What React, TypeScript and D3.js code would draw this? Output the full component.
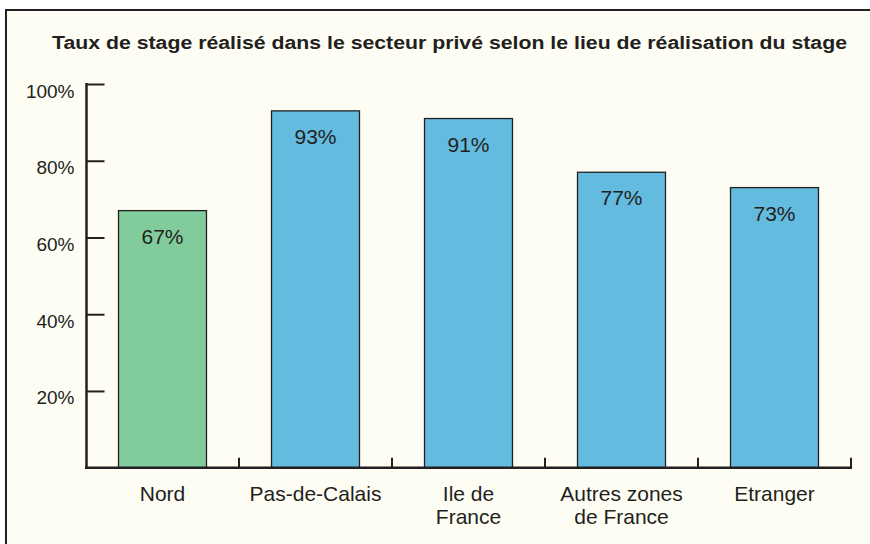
import React, { useEffect, useRef } from "react";
import * as d3 from "d3";

const categories = [
  ["Nord"],
  ["Pas-de-Calais"],
  ["Ile de", "France"],
  ["Autres zones", "de France"],
  ["Etranger"],
];
const values = [67, 93, 91, 77, 73];
const barColors = ["#82cb9c", "#63bbe0", "#63bbe0", "#63bbe0", "#63bbe0"];
const yTicks = [20, 40, 60, 80, 100];
const title =
  "Taux de stage réalisé dans le secteur privé selon le lieu de réalisation du stage";

const width = 870;
const height = 544;
const ink = "#231f20";
const font = "'Liberation Sans', Arial, sans-serif";

export default function App() {
  const ref = useRef<SVGSVGElement>(null);

  useEffect(() => {
    const svg = d3.select(ref.current);
    svg.selectAll("*").remove();

    const keys = categories.map((c, i) => String(i));
    // bands span the full axis, ticks sit on the band edges
    const band = d3.scaleBand().domain(keys).range([86, 851]).padding(0);
    const x = d3
      .scaleBand()
      .domain(keys)
      .range([86, 851])
      .paddingInner(0.425)
      .paddingOuter(0.2125);
    const y = d3.scaleLinear().domain([0, 100]).range([467.7, 84]);

    // background and frame
    svg.append("rect").attr("width", width).attr("height", height).attr("fill", "#ffffff");
    svg
      .append("rect")
      .attr("x", 6)
      .attr("y", 10)
      .attr("width", width + 20)
      .attr("height", height + 20)
      .attr("fill", "#fdfdf4")
      .attr("stroke", ink)
      .attr("stroke-width", 2);

    // title is set wider than the font's natural width
    svg
      .append("text")
      .attr("x", 52)
      .attr("y", 48.5)
      .attr("textLength", 795)
      .attr("lengthAdjust", "spacingAndGlyphs")
      .attr("font-family", font)
      .attr("font-weight", "bold")
      .attr("font-size", 17.5)
      .attr("fill", ink)
      .text(title);

    // bars
    svg
      .append("g")
      .selectAll("rect")
      .data(values)
      .join("rect")
      .attr("x", (d, i) => x(keys[i])!)
      .attr("y", (d) => y(d))
      .attr("width", x.bandwidth())
      .attr("height", (d) => y(0) - y(d))
      .attr("fill", (d, i) => barColors[i])
      .attr("stroke", ink)
      .attr("stroke-width", 1.3);

    svg
      .append("g")
      .selectAll("text")
      .data(values)
      .join("text")
      .attr("x", (d, i) => x(keys[i])! + x.bandwidth() / 2)
      .attr("y", (d) => y(d) + 33)
      .attr("text-anchor", "middle")
      .attr("font-family", font)
      .attr("font-size", 21)
      .attr("fill", ink)
      .text((d) => d + "%");

    // y axis
    const yAxis = svg.append("g").attr("transform", "translate(86.5,0)");
    yAxis
      .call(d3.axisRight(y).tickValues(yTicks).tickSize(18).tickFormat(() => ""))
      .call((g) => g.select(".domain").remove())
      .call((g) => g.selectAll(".tick line").attr("stroke", ink).attr("stroke-width", 2));
    yAxis
      .append("line")
      .attr("y1", 83)
      .attr("y2", y(0))
      .attr("stroke", ink)
      .attr("stroke-width", 2.5);
    yAxis
      .selectAll("text.lbl")
      .data(yTicks)
      .join("text")
      .attr("class", "lbl")
      .attr("x", -12)
      .attr("y", (d) => y(d) + 13.5)
      .attr("text-anchor", "end")
      .attr("font-family", font)
      .attr("font-size", 19)
      .attr("fill", ink)
      .text((d) => d + "%");

    // x axis
    const xAxis = svg.append("g").attr("transform", `translate(0,${y(0)})`);
    xAxis
      .append("line")
      .attr("x1", 85)
      .attr("x2", 852)
      .attr("stroke", ink)
      .attr("stroke-width", 2.5);
    xAxis
      .selectAll("line.tk")
      .data(keys)
      .join("line")
      .attr("class", "tk")
      .attr("x1", (k) => band(k)! + band.bandwidth())
      .attr("x2", (k) => band(k)! + band.bandwidth())
      .attr("y1", 0)
      .attr("y2", -10)
      .attr("stroke", ink)
      .attr("stroke-width", 2);

    const labels = xAxis
      .selectAll("text")
      .data(categories)
      .join("text")
      .attr("x", (c, i) => band(keys[i])! + band.bandwidth() / 2)
      .attr("y", 33.5)
      .attr("text-anchor", "middle")
      .attr("font-family", font)
      .attr("font-size", 21)
      .attr("fill", ink);
    labels
      .selectAll("tspan")
      .data((c) => c)
      .join("tspan")
      .attr("x", function () {
        return (this.parentNode as SVGTextElement).getAttribute("x");
      })
      .attr("dy", (d, j) => (j === 0 ? 0 : 23))
      .text((d) => d);
  }, []);

  return (
    <svg
      ref={ref}
      width={width}
      height={height}
      style={{ position: "absolute", left: 0, top: 0 }}
    />
  );
}
